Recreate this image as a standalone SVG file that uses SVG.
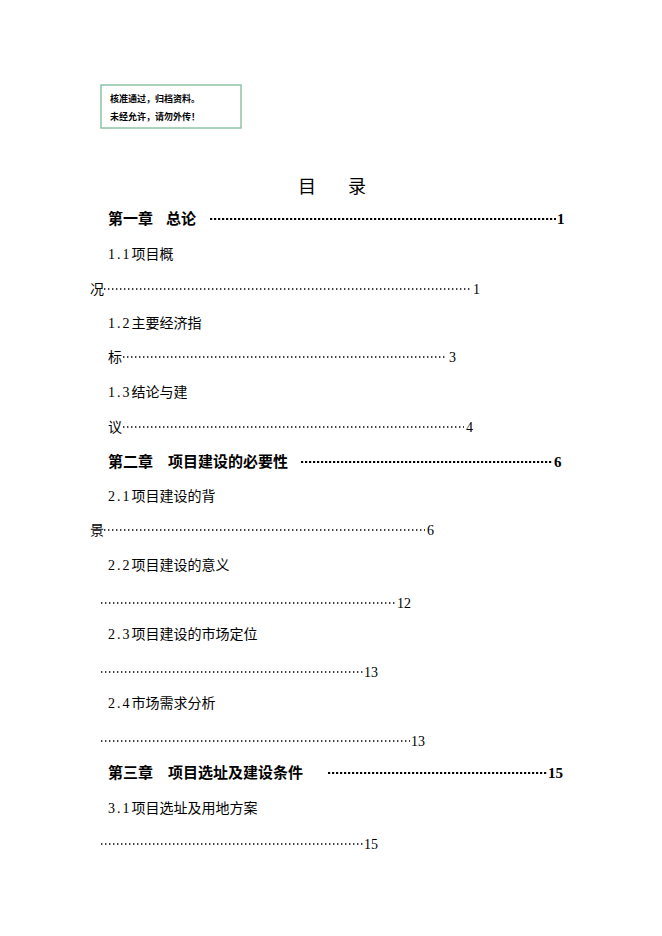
<svg xmlns="http://www.w3.org/2000/svg" width="662" height="936" viewBox="0 0 662 936">
<style>
text{font-family:"Liberation Serif","Noto Sans CJK SC",serif;fill:#000}
.s{font-size:14px}
.c{font-size:15px;font-weight:bold}
.d{stroke:#000;stroke-width:1.4;stroke-dasharray:1.4 2.6}
.db{stroke:#000;stroke-width:2.2;stroke-dasharray:2.2 1.8}
</style>
<rect width="662" height="936" fill="#fff"/>
<g id="stamp">
<rect x="101" y="85" width="140" height="43" fill="#fff" stroke="#8cc4a6" stroke-width="1.5"/>
<text x="110" y="102" font-size="9" font-weight="bold">核准通过，归档资料。</text>
<text x="110" y="120" font-size="9" font-weight="bold">未经允许，请勿外传！</text>
</g>
<text x="298" y="193" font-size="18">目</text>
<text x="348" y="193" font-size="18">录</text>
<g id="toc">
<text class="c" x="108" y="224">第一章</text><text class="c" x="166" y="224">总论</text><line class="db" x1="210" y1="219" x2="556" y2="219"/><text class="c" x="557" y="224">1</text>
<text class="s" x="108" y="259"><tspan letter-spacing="2">1.1</tspan>项目概</text>
<text class="s" x="90" y="294">况</text><line class="d" x1="104" y1="289" x2="471" y2="289"/><text class="s" x="473" y="294">1</text>
<text class="s" x="108" y="328"><tspan letter-spacing="2">1.2</tspan>主要经济指</text>
<text class="s" x="108" y="362">标</text><line class="d" x1="123" y1="357" x2="447" y2="357"/><text class="s" x="449" y="362">3</text>
<text class="s" x="108" y="397"><tspan letter-spacing="2">1.3</tspan>结论与建</text>
<text class="s" x="108" y="432">议</text><line class="d" x1="123" y1="427" x2="464" y2="427"/><text class="s" x="466" y="432">4</text>
<text class="c" x="108" y="467">第二章</text><text class="c" x="168" y="467">项目建设的必要性</text><line class="db" x1="301" y1="462" x2="553" y2="462"/><text class="c" x="554" y="467">6</text>
<text class="s" x="108" y="501"><tspan letter-spacing="2">2.1</tspan>项目建设的背</text>
<text class="s" x="90" y="535">景</text><line class="d" x1="104" y1="530" x2="425" y2="530"/><text class="s" x="427" y="535">6</text>
<text class="s" x="108" y="570"><tspan letter-spacing="2">2.2</tspan>项目建设的意义</text>
<line class="d" x1="101" y1="603" x2="396" y2="603"/><text class="s" x="397" y="608">12</text>
<text class="s" x="108" y="639"><tspan letter-spacing="2">2.3</tspan>项目建设的市场定位</text>
<line class="d" x1="101" y1="672" x2="363" y2="672"/><text class="s" x="364" y="677">13</text>
<text class="s" x="108" y="708"><tspan letter-spacing="2">2.4</tspan>市场需求分析</text>
<line class="d" x1="101" y1="741" x2="410" y2="741"/><text class="s" x="411" y="746">13</text>
<text class="c" x="108" y="778">第三章</text><text class="c" x="168" y="778">项目选址及建设条件</text><line class="db" x1="328" y1="773" x2="547" y2="773"/><text class="c" x="548" y="778">15</text>
<text class="s" x="108" y="813"><tspan letter-spacing="2">3.1</tspan>项目选址及用地方案</text>
<line class="d" x1="101" y1="844" x2="363" y2="844"/><text class="s" x="364" y="849">15</text>
</g>
</svg>
